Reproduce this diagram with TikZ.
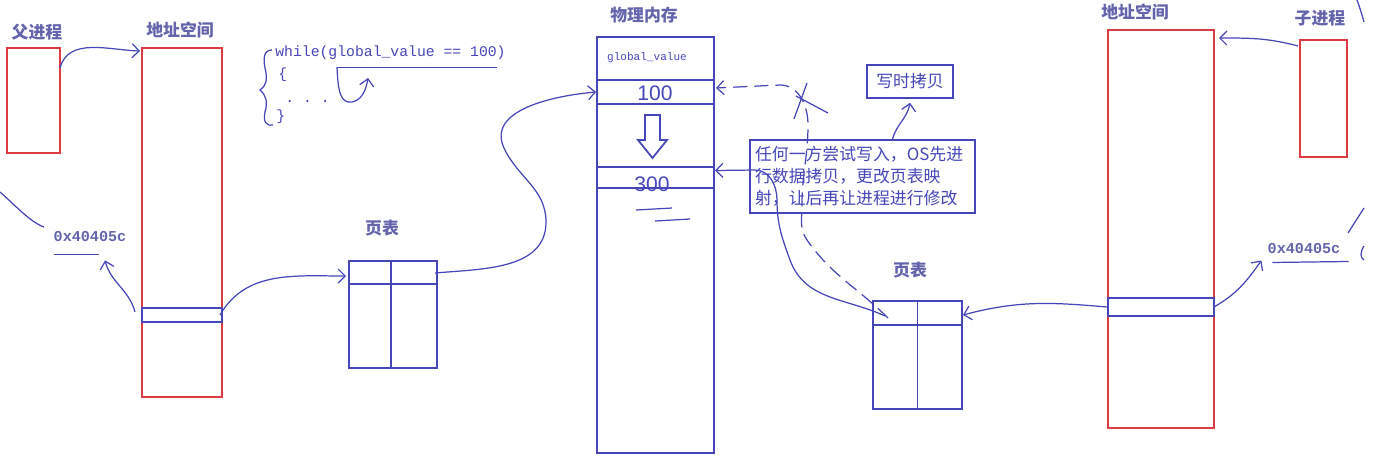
\documentclass[tikz,border=0pt]{standalone}
\usepackage{fontspec}
\setmonofont{Liberation Mono}
\setsansfont{Liberation Sans}
\newfontfamily\cjk{Noto Sans CJK SC}
\usetikzlibrary{arrows.meta, calc}

\definecolor{boxred}{RGB}{222,58,68}
\definecolor{pen}{RGB}{70,70,184}
\definecolor{ink}{RGB}{100,100,172}
\def\pxu{0.02cm}

\begin{document}
\begin{tikzpicture}[x=0.02cm, y=0.02cm, font=\cjk\fontsize{9.6}{12.5}\selectfont,
  redbox/.style={draw=boxred, line width=1.1pt, inner sep=0, outer sep=0},
  bluebox/.style={draw=pen, line width=1pt, inner sep=0, outer sep=0},
  lbl/.style={text=ink, font=\cjk\bfseries\fontsize{9.6}{12}\selectfont},
  code/.style={text=pen, font=\ttfamily\fontsize{8.4}{10}\selectfont, inner sep=0},
  addr/.style={text=ink, font=\ttfamily\bfseries\fontsize{8.6}{10}\selectfont, inner sep=0},
  scrawl/.style={text=pen, font=\sffamily\fontsize{12}{12}\selectfont, inner sep=0},
  notebox/.style={draw=pen, line width=0.9pt, text=pen, align=left, inner sep=0.1cm},
  stroke/.style={draw=pen, line width=0.7pt},
  conn/.style={stroke, -{Straight Barb[length=4pt,width=8pt]}}]
  \useasboundingbox (0,0) rectangle (1394,-461);

  % parent side
  \node[lbl] at (37,-32) {父进程};
  \node[redbox, minimum width=53*\pxu, minimum height=105*\pxu] (parent) at (33.5,-100.5) {};
  \node[lbl] at (180,-30) {地址空间};
  \node[redbox, minimum width=80*\pxu, minimum height=349*\pxu] (addrL) at (182,-222.5) {};
  \node[bluebox, minimum width=80*\pxu, minimum height=14*\pxu] (stripL) at (182,-315) {};
  \node[addr] (valL) at (90,-237) {0x40405c};
  \draw[stroke] ($(valL.south west)+(1,-12)$) -- ++(45,0);

  \node[lbl] at (382,-228) {页表};
  \node[bluebox, minimum width=88*\pxu, minimum height=107*\pxu] (ptL) at (393,-314.5) {};
  \draw[stroke] ($(ptL.north)+(-2,0)$) -- ($(ptL.south)+(-2,0)$);
  \draw[stroke] ($(ptL.north west)+(0,-23)$) -- ($(ptL.north east)+(0,-23)$);

  % code
  \node[code, anchor=west] (loop) at (275,-53) {while(global\_value == 100)};
  \node[code, anchor=west] at (278,-75) {\{};
  \node[code, anchor=base west] at (285,-102) {. . .};
  \node[code, anchor=west] at (276,-117) {\}};
  \draw[stroke] (272,-50) .. controls (264,-50) and (263,-58) .. (265,-68)
    .. controls (268,-80) and (266,-86) .. (260,-90)
    .. controls (266,-95) and (268,-102) .. (265,-112)
    .. controls (263,-122) and (266,-126) .. (273,-125);
  \draw[stroke] ($(loop.south west)+(62,-7)$) -- ($(loop.south east)+(-9,-7)$);
  \draw[conn] ($(loop.south west)+(62,-7)$) .. controls (338,-90) and (340,-104) .. (352,-102)
    .. controls (362,-100) and (366,-90) .. (368,-78);

  % physical memory
  \node[lbl] at (644,-15) {物理内存};
  \node[bluebox, minimum width=117*\pxu, minimum height=416*\pxu] (mem) at (655.5,-245) {};
  \node[code, font=\ttfamily\fontsize{6.3}{7}\selectfont] (gv) at (647,-58) {global\_value};
  \node[bluebox, minimum width=117*\pxu, minimum height=24*\pxu] (oldcell) at (655.5,-92) {};
  \node[scrawl] at (655,-93) {100};
  \node[bluebox, minimum width=117*\pxu, minimum height=21*\pxu] (newcell) at (655.5,-177.5) {};
  \node[scrawl] at (652,-184) {300};
  \draw[stroke] (636,-210) -- (672,-208);
  \draw[stroke] (655,-221) -- (690,-219);
  \draw[draw=pen, line width=1pt] (645,-115) -- (660,-115) -- (660,-140) -- (667,-140)
    -- (652.5,-158) -- (638,-140) -- (645,-140) -- cycle;

  % notes
  \node[notebox, text width=4.3cm, minimum height=73*\pxu] (note) at (862.5,-176.5)
    {任何一方尝试写入，OS先进\\行数据拷贝，更改页表映\\射，让后再让进程进行修改};
  \node[notebox, minimum width=86*\pxu, minimum height=33*\pxu] (cow) at (910,-81.5) {写时拷贝};

  % child side
  \node[lbl] at (910,-270) {页表};
  \node[bluebox, minimum width=89*\pxu, minimum height=108*\pxu] (ptR) at (917.5,-355) {};
  \draw[stroke] (ptR.north) -- (ptR.south);
  \draw[stroke] ($(ptR.north west)+(0,-24)$) -- ($(ptR.north east)+(0,-24)$);
  \node[lbl] at (1135,-12) {地址空间};
  \node[redbox, minimum width=106*\pxu, minimum height=398*\pxu] (addrR) at (1161,-229) {};
  \node[bluebox, minimum width=106*\pxu, minimum height=18*\pxu] (stripR) at (1161,-307) {};
  \node[lbl] at (1320,-18) {子进程};
  \node[redbox, minimum width=47*\pxu, minimum height=117*\pxu] (child) at (1323.5,-98.5) {};
  \node[addr] (valR) at (1304,-249) {0x40405c};
  \draw[stroke] ($(valR.south west)+(5,-8)$) -- ($(valR.south east)+(8,-7)$);

  % connectors
  \draw[conn] ($(parent.north east)+(0,-20)$) to[out=75,in=178] ($(addrL.north west)+(-2,-3)$);
  \draw[conn] ($(stripL.west)+(-7,3)$) to[out=105,in=-75] ($(valL.south)+(15,-18)$);
  \draw[conn] ($(stripL.east)+(-2,0)$) to[out=60,in=180] ($(ptL.north west)+(-3,-15)$);
  \draw[conn] ($(ptL.north east)+(-2,-12)$) to[out=5,in=-90] (546,-222)
    to[out=90,in=-65] (504,-148) to[out=115,in=185] ($(oldcell.west)+(-1,0)$);
  \draw[conn] ($(note.north)+(30,0)$) to[out=75,in=-100] ($(cow.south)+(0,-4)$);
  \draw[conn] ($(stripR.west)+(-1,0)$) to[out=175,in=15] ($(ptR.north east)+(1,-14)$);
  \draw[conn] ($(child.north west)+(-2,-6)$) to[out=165,in=0] ($(addrR.north east)+(5,-8)$);
  \draw[conn] (stripR.east) to[out=30,in=-125] ($(valR.south west)+(-6,-6)$);
  % new mapping, old one crossed out
  \draw[conn] ($(ptR.north west)+(12,-15)$) to[out=155,in=-70] (790,-260)
    to[out=110,in=-90] (777,-200) to[out=90,in=0] (755,-170) -- ($(newcell.east)+(1,7)$);
  \draw[conn, dash pattern=on 8pt off 4pt] ($(ptR.north west)+(15,-17)$) to[out=135,in=-55] (807,-240)
    to[out=125,in=-90] (802,-205) to[out=90,in=-90] (808,-125) to[out=90,in=0] (780,-85)
    -- ($(oldcell.east)+(2,4)$);
  \draw[stroke] (807,-83) -- (794,-119);
  \draw[stroke] (796,-96) -- (828,-113);

  % stray pen strokes
  \draw[stroke] (0,-192) .. controls (15,-205) and (30,-222) .. (44,-227);
  \draw[stroke] (1348,-233) -- (1364,-208);
  \draw[stroke] (1364,-246) .. controls (1360,-252) and (1360,-258) .. (1364,-260);
  \draw[stroke] (1357,0) .. controls (1360,-8) and (1362,-15) .. (1364,-22);
\end{tikzpicture}
\end{document}
